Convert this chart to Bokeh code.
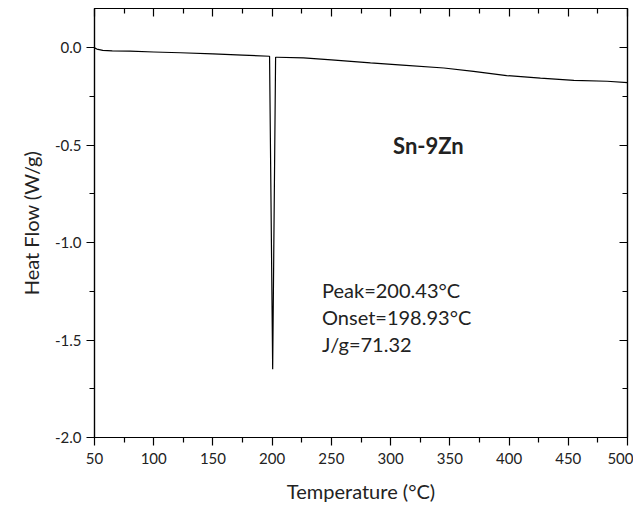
from bokeh.plotting import figure
from bokeh.models import (LinearAxis, Range1d, FixedTicker, NumeralTickFormatter,
                          CustomJSTickFormatter, Label, Title)
from bokeh.embed import file_html
from bokeh.resources import INLINE

# ---- data ----
temperature = [50, 52, 57, 65, 80, 100, 122.5, 150, 175, 197.8, 200.43, 202.9, 204,
               226.5, 250, 283, 310, 345, 370, 398, 426.5, 454.7, 482.8, 500]
heat_flow = [-0.002, -0.008, -0.015, -0.017, -0.019, -0.023, -0.027, -0.033, -0.039,
             -0.045, -1.65, -0.05, -0.05, -0.053, -0.063, -0.079, -0.09, -0.105,
             -0.122, -0.144, -0.157, -0.169, -0.173, -0.18]

x_ticks = [50, 100, 150, 200, 250, 300, 350, 400, 450, 500]
x_minor = [75, 125, 175, 225, 275, 325, 375, 425, 475]
y_ticks = [-2.0, -1.5, -1.0, -0.5, 0.0]
y_minor = [-1.75, -1.25, -0.75, -0.25]

x_title = "Temperature (°C)"
y_title = "Heat Flow (W/g)"
sample_name = "Sn-9Zn"
peak_lines = ["Peak=200.43°C", "Onset=198.93°C", "J/g=71.32"]

FONT = "Lato"
TXT = "#222222"

p = figure(width=633, height=507, output_backend="svg", toolbar_location=None,
           x_range=Range1d(50, 500), y_range=Range1d(-2.0, 0.2),
           x_axis_location=None, y_axis_location=None,
           min_border_left=94, min_border_right=6, min_border_top=8, min_border_bottom=70)
p.xgrid.visible = False
p.ygrid.visible = False
p.outline_line_color = "black"
p.outline_line_width = 1.2
p.background_fill_color = "white"
p.border_fill_color = "white"

p.line(temperature, heat_flow, line_color="black", line_width=1.2)


def style(ax, inward, labels):
    ax.axis_line_color = "black"
    ax.axis_line_width = 1.2
    ax.major_tick_line_color = "black"
    ax.minor_tick_line_color = "black"
    ax.major_tick_line_width = 1.2
    ax.minor_tick_line_width = 1.2
    if inward:
        ax.major_tick_in = 8
        ax.major_tick_out = 0
        ax.minor_tick_in = 5
        ax.minor_tick_out = 0
    else:
        ax.major_tick_in = 0
        ax.major_tick_out = 8
        ax.minor_tick_in = 0
        ax.minor_tick_out = 5
    ax.major_label_text_font = FONT
    ax.major_label_text_font_size = "15px"
    ax.major_label_text_color = TXT
    ax.axis_label_text_font = FONT
    ax.axis_label_text_font_style = "normal"
    ax.axis_label_text_font_size = "20px"
    ax.axis_label_text_color = TXT
    if not labels:
        ax.formatter = CustomJSTickFormatter(code="return '';")


bx = LinearAxis(ticker=FixedTicker(ticks=x_ticks, minor_ticks=x_minor),
                axis_label=x_title)
style(bx, False, True)
bx.major_label_standoff = 7
bx.axis_label_standoff = 12
p.add_layout(bx, "below")

ly = LinearAxis(ticker=FixedTicker(ticks=y_ticks, minor_ticks=y_minor),
                formatter=NumeralTickFormatter(format="0.0"))
style(ly, False, True)
ly.major_label_standoff = 5
p.add_layout(ly, "left")

tx = LinearAxis(ticker=FixedTicker(ticks=x_ticks, minor_ticks=x_minor))
style(tx, True, False)
p.add_layout(tx, "above")

ry = LinearAxis(ticker=FixedTicker(ticks=y_ticks, minor_ticks=y_minor))
style(ry, True, False)
p.add_layout(ry, "right")

# y-axis title
p.add_layout(Title(text=y_title, align="center", offset=-14, standoff=18,
                   text_font=FONT, text_font_size="20px", text_font_style="normal",
                   text_color=TXT), "left")

p.add_layout(Label(x=331.9, y=-0.503, text=sample_name, text_font=FONT,
                   text_font_style="bold", text_font_size="22px", text_color=TXT,
                   text_align="center", text_baseline="middle"))

for txt, yy in zip(peak_lines, [-1.242, -1.383, -1.519]):
    p.add_layout(Label(x=242.1, y=yy, text=txt, text_font=FONT, text_font_size="20px",
                       text_color=TXT, text_align="left", text_baseline="alphabetic"))

open("out.html", "w").write(file_html(p, INLINE))
